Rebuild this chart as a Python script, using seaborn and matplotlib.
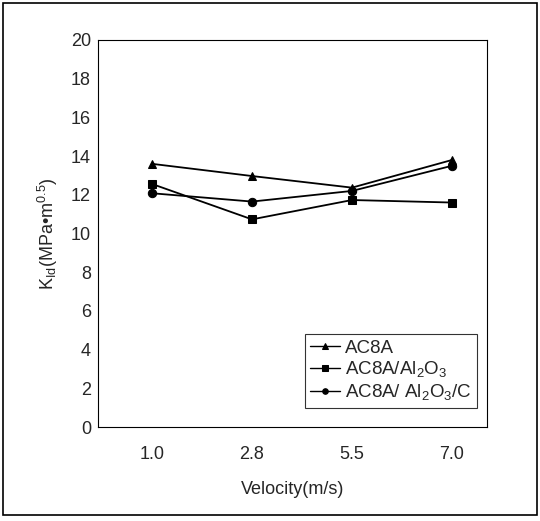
import matplotlib
matplotlib.use("Agg")
import matplotlib.pyplot as plt
import seaborn as sns
import pandas as pd

velocity = ["1.0", "2.8", "5.5", "7.0"]
ac8a = [13.6, 12.97, 12.37, 13.8]
ac8a_al2o3 = [12.56, 10.73, 11.73, 11.6]
ac8a_al2o3_c = [12.08, 11.65, 12.2, 13.5]
series_names = ["AC8A", r"AC8A/Al$_2$O$_3$", r"AC8A/ Al$_2$O$_3$/C"]
yticks = list(range(0, 21, 2))

rows = []
for name, vals in zip(series_names, [ac8a, ac8a_al2o3, ac8a_al2o3_c]):
    for v, k in zip(velocity, vals):
        rows.append({"Velocity": v, "K": k, "Material": name})
df = pd.DataFrame(rows)

sns.set_style("white")
plt.rcParams['font.family'] = ['Liberation Sans', 'DejaVu Sans']
plt.rcParams['mathtext.fontset'] = 'custom'
plt.rcParams['mathtext.rm'] = 'Liberation Sans'
plt.rcParams['mathtext.it'] = 'Liberation Sans'

fig = plt.figure(figsize=(5.4, 5.21), dpi=100)
ax = fig.add_axes([98/540, 1-427/521, (487-98)/540, (427-40)/521])

sns.lineplot(data=df, x="Velocity", y="K", hue="Material", style="Material",
             markers={series_names[0]: "^", series_names[1]: "s", series_names[2]: "o"},
             dashes=False, palette=["black"]*3, linewidth=1.3, markersize=6,
             markeredgecolor="black", ax=ax, sort=False)

ax.set_xlim(-0.54, 3.35)
ax.set_ylim(0, 20)
ax.set_yticks(yticks)
ax.tick_params(axis="y", labelsize=13, length=0, pad=5)
ax.tick_params(axis="x", labelsize=13, length=0, pad=14)
ax.set_xlabel("Velocity(m/s)", fontsize=13, labelpad=13)
ax.set_ylabel(r"K$_{\mathrm{Id}}$(MPa•m$^{0.5}$)", fontsize=13, labelpad=8)
for s in ax.spines.values():
    s.set_color("black")
    s.set_linewidth(0.8)

leg = ax.legend(loc="lower right", bbox_to_anchor=(0.985, 0.04), fontsize=13.5,
                frameon=True, fancybox=False, edgecolor="black", handlelength=1.6,
                handletextpad=0.25, borderpad=0.3, labelspacing=0.15,
                borderaxespad=0.2)
leg.get_frame().set_linewidth(0.8)
for h in leg.legend_handles:
    h.set_markersize(4)
    h.set_linewidth(1.0)

fig.patches.append(plt.Rectangle((3/540, 1-515/521), 534/540, 512/521, transform=fig.transFigure,
                                 fill=False, edgecolor="black", linewidth=1.2))

fig.savefig("out.png", dpi=100)
